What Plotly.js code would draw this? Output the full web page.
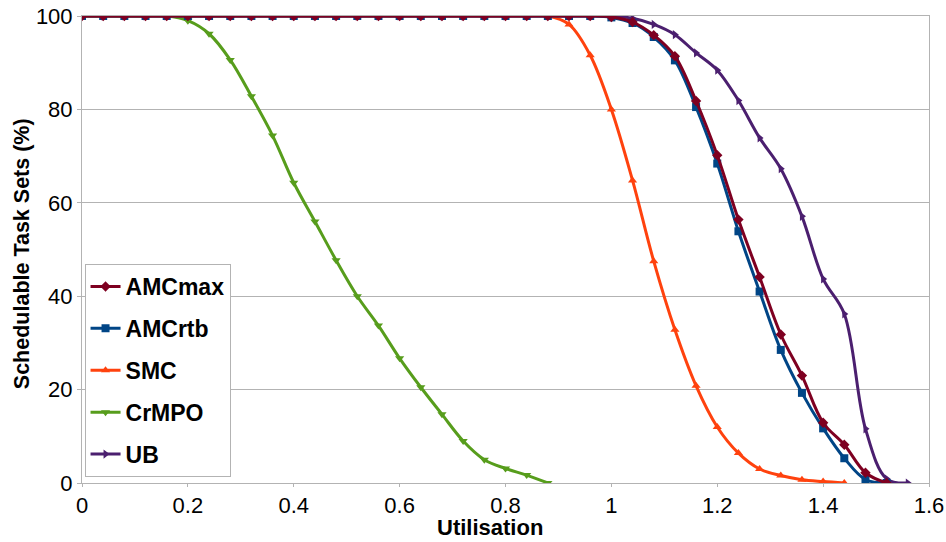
<!DOCTYPE html>
<html>
<head>
<meta charset="utf-8">
<script src="https://cdn.plot.ly/plotly-3.0.1.min.js"></script>
<style>html,body{margin:0;padding:0;background:#fff;}#chart{width:946px;height:542px;}</style>
</head>
<body>
<div id="chart"></div>
<script>
var utilisation = [0,0.04,0.08,0.12,0.16,0.2,0.24,0.28,0.32,0.36,0.4,0.44,0.48,0.52,0.56,0.6,0.64,0.68,0.72,0.76,0.8,0.84,0.88,0.92,0.96,1,1.04,1.08,1.12,1.16,1.2,1.24,1.28,1.32,1.36,1.4,1.44,1.48,1.52,1.56];

var amcMax = [100,100,100,100,100,100,100,100,100,100,100,100,100,100,100,100,100,100,100,100,100,100,100,100,100,
  99.8,98.7,95.9,91.4,81.8,70.2,56.4,44.1,31.8,23.0,12.9,8.2,2.2,0];
var amcRtb = [100,100,100,100,100,100,100,100,100,100,100,100,100,100,100,100,100,100,100,100,100,100,100,100,100,
  99.7,98.5,95.5,90.5,80.5,68.4,53.9,41.0,28.5,19.3,11.7,5.3,0.75,0];
var smc = [100,100,100,100,100,100,100,100,100,100,100,100,100,100,100,100,100,100,100,100,100,100,100,
  98.2,91.6,80.0,64.8,47.5,32.8,20.8,12.0,6.4,3.0,1.6,0.7,0.3,0];
var crmpo = [100,100,100,100,100,99,96.2,90.6,82.8,74.4,64.3,56.0,47.7,40.0,33.7,26.7,20.5,14.7,9.0,5.0,3.1,1.7,0];
var ub = [100,100,100,100,100,100,100,100,100,100,100,100,100,100,100,100,100,100,100,100,100,100,100,100,100,
  100,99.5,98.2,96.0,92.1,88.4,81.9,73.9,67.3,57.1,43.7,36.2,11.6,0.9,0];

var seriesNames = ["AMCmax","AMCrtb","SMC","CrMPO","UB"];
var seriesData = [amcMax, amcRtb, smc, crmpo, ub];
var seriesColors = ["#7e0021","#004586","#ff420e","#579d1c","#4b1f6f"];
var seriesSymbols = ["diamond","square","triangle-up","triangle-down","triangle-right"];

var traces = [];
for (var i = seriesNames.length - 1; i >= 0; i--) {
  var ys = seriesData[i];
  traces.push({
    type: "scatter",
    mode: "lines+markers",
    name: seriesNames[i],
    legendgroup: seriesNames[i],
    legendrank: i + 1,
    x: utilisation.slice(0, ys.length),
    y: ys,
    line: {color: seriesColors[i], width: 3, shape: "spline", smoothing: 1},
    marker: {color: seriesColors[i], symbol: seriesSymbols[i], size: 8}
  });
}

var fam = "Liberation Sans";
var grid = "#b3b3b3";

var layout = {
  width: 946, height: 542,
  margin: {l: 82, r: 17, t: 16, b: 59},
  paper_bgcolor: "#ffffff",
  plot_bgcolor: "#ffffff",
  font: {family: fam, size: 22, color: "#000"},
  showlegend: true,
  legend: {
    x: 0.003, y: 0.469, xanchor: "left", yanchor: "top",
    bgcolor: "#ffffff", bordercolor: grid, borderwidth: 1,
    traceorder: "grouped", tracegroupgap: 9,
    entrywidth: 125, entrywidthmode: "pixels",
    font: {family: fam, size: 23, color: "#000", weight: "bold"}
  },
  xaxis: {
    range: [0, 1.6], dtick: 0.2, tick0: 0,
    showgrid: false, zeroline: false,
    showline: true, linecolor: grid, linewidth: 1, mirror: true,
    ticks: "outside", ticklen: 3, tickcolor: grid,
    tickfont: {family: fam, size: 22, color: "#000"}
  },
  yaxis: {
    range: [0, 100], dtick: 20, tick0: 0,
    showgrid: true, gridcolor: grid, gridwidth: 1, zeroline: false,
    showline: true, linecolor: grid, linewidth: 1, mirror: true,
    ticks: "outside", ticklen: 4, tickcolor: grid,
    tickfont: {family: fam, size: 22, color: "#000"}
  },
  annotations: [
    {text: "Utilisation", xref: "paper", yref: "paper", x: 0.4817, y: -0.1242,
     xanchor: "center", yanchor: "bottom", showarrow: false, borderpad: 0,
     font: {family: fam, size: 22, color: "#000", weight: "bold"}},
    {text: "Schedulable Task Sets (%)", xref: "paper", yref: "paper", x: -0.0708, y: 0.49,
     xanchor: "center", yanchor: "middle", showarrow: false, textangle: -90,
     font: {family: fam, size: 21.5, color: "#000", weight: "bold"}}
  ]
};

Plotly.newPlot("chart", traces, layout, {displayModeBar: false, staticPlot: true});
</script>
</body>
</html>
